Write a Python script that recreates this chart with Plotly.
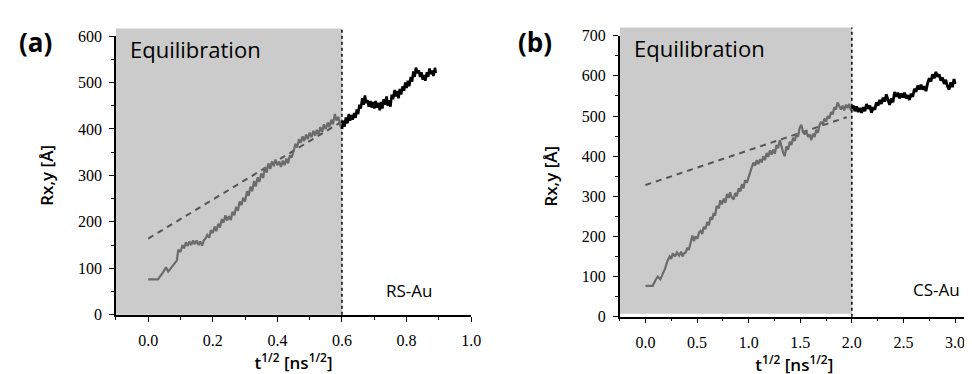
import plotly.graph_objects as go

# ---------------- data ----------------
# Panel (a) RS-Au : equilibration part (grey)
a_eq_t = [0.000, 0.030, 0.045, 0.055, 0.062, 0.075, 0.089, 0.093, 0.100, 0.106, 0.111, 0.117,
          0.122, 0.128, 0.133, 0.139, 0.144, 0.150, 0.156, 0.161, 0.167, 0.172, 0.178, 0.183,
          0.189, 0.194, 0.200, 0.206, 0.211, 0.217, 0.222, 0.228, 0.233, 0.239, 0.244, 0.250,
          0.256, 0.261, 0.267, 0.272, 0.278, 0.283, 0.289, 0.294, 0.300, 0.306, 0.311, 0.317,
          0.322, 0.328, 0.333, 0.339, 0.344, 0.350, 0.356, 0.361, 0.367, 0.372, 0.378, 0.383,
          0.389, 0.394, 0.400, 0.406, 0.411, 0.417, 0.422, 0.428, 0.433, 0.439, 0.444, 0.450,
          0.456, 0.461, 0.467, 0.472, 0.478, 0.483, 0.489, 0.494, 0.500, 0.506, 0.511, 0.517,
          0.522, 0.528, 0.533, 0.539, 0.544, 0.550, 0.556, 0.561, 0.567, 0.572, 0.578, 0.583,
          0.589, 0.594, 0.600]
a_eq_r = [76, 76, 90, 102, 93, 105, 117, 140, 135, 150, 143, 156,
          148, 158, 150, 160, 152, 160, 150, 158, 149, 160, 165, 172,
          166, 182, 176, 190, 180, 196, 188, 206, 198, 214, 203, 212,
          204, 222, 214, 232, 224, 244, 236, 252, 244, 266, 256, 276,
          266, 288, 276, 296, 286, 304, 294, 318, 306, 326, 314, 330,
          320, 334, 322, 330, 318, 332, 322, 336, 326, 344, 338, 352,
          368, 360, 378, 370, 384, 374, 388, 378, 392, 382, 396, 386,
          398, 388, 404, 394, 410, 400, 414, 404, 420, 410, 432, 418,
          426, 408, 400]
# Panel (a) RS-Au : production part (black)
a_pr_t = [0.600, 0.604, 0.608, 0.612, 0.617, 0.621, 0.625, 0.629, 0.633, 0.638, 0.642, 0.646,
          0.650, 0.654, 0.658, 0.663, 0.667, 0.671, 0.675, 0.679, 0.683, 0.688, 0.692, 0.696,
          0.700, 0.704, 0.708, 0.713, 0.717, 0.721, 0.725, 0.729, 0.733, 0.738, 0.742, 0.746,
          0.750, 0.754, 0.758, 0.763, 0.767, 0.771, 0.775, 0.779, 0.783, 0.788, 0.792, 0.796,
          0.800, 0.804, 0.808, 0.813, 0.817, 0.821, 0.825, 0.829, 0.833, 0.838, 0.842, 0.846,
          0.850, 0.854, 0.858, 0.863, 0.867, 0.871, 0.875, 0.879, 0.883, 0.888, 0.890]
a_pr_r = [400, 418, 405, 425, 412, 432, 418, 430, 420, 434, 424, 442,
          432, 452, 444, 466, 452, 472, 456, 462, 448, 460, 446, 458,
          444, 460, 446, 456, 440, 458, 444, 464, 452, 470, 450, 462,
          448, 474, 464, 484, 470, 482, 466, 486, 474, 492, 482, 500,
          488, 504, 492, 512, 502, 524, 512, 532, 520, 526, 512, 522,
          506, 516, 504, 522, 512, 530, 518, 526, 514, 532, 520]
a_fit_t = [0.0, 0.6]
a_fit_r = [164, 416]

# Panel (b) CS-Au : equilibration part (grey)
b_eq_t = [0.000, 0.070, 0.100, 0.119, 0.144, 0.170, 0.189, 0.215, 0.235, 0.250, 0.265, 0.285,
          0.305, 0.326, 0.345, 0.360, 0.374, 0.390, 0.407, 0.420, 0.440, 0.455, 0.470, 0.485,
          0.503, 0.520, 0.535, 0.550, 0.565, 0.580, 0.599, 0.615, 0.630, 0.647, 0.660, 0.675,
          0.690, 0.711, 0.725, 0.740, 0.759, 0.775, 0.790, 0.807, 0.820, 0.835, 0.855, 0.870,
          0.885, 0.903, 0.920, 0.935, 0.950, 0.965, 0.983, 1.000, 1.015, 1.030, 1.046, 1.062,
          1.078, 1.094, 1.110, 1.126, 1.142, 1.158, 1.175, 1.190, 1.206, 1.222, 1.238, 1.254,
          1.270, 1.286, 1.302, 1.318, 1.335, 1.350, 1.366, 1.382, 1.398, 1.414, 1.430, 1.446,
          1.462, 1.478, 1.494, 1.510, 1.526, 1.543, 1.559, 1.575, 1.591, 1.607, 1.623, 1.639,
          1.655, 1.671, 1.687, 1.703, 1.719, 1.735, 1.750, 1.766, 1.782, 1.798, 1.814, 1.830,
          1.846, 1.862, 1.878, 1.894, 1.910, 1.926, 1.942, 1.958, 1.974, 1.990, 2.000]
b_eq_r = [77, 77, 92, 100, 93, 106, 119, 140, 150, 144, 158, 150,
          160, 152, 162, 150, 158, 160, 172, 166, 190, 202, 188, 200,
          194, 210, 214, 206, 224, 218, 236, 228, 248, 242, 258, 252,
          276, 270, 290, 280, 294, 284, 306, 296, 310, 298, 292, 308,
          300, 320, 312, 330, 320, 340, 334, 350, 362, 372, 384, 376,
          390, 380, 392, 384, 400, 390, 408, 398, 414, 404, 416, 406,
          428, 420, 440, 422, 408, 400, 424, 416, 436, 428, 446, 438,
          456, 448, 470, 478, 462, 454, 462, 448, 454, 440, 456, 448,
          466, 458, 478, 486, 478, 494, 486, 500, 494, 510, 504, 522,
          516, 534, 524, 516, 526, 514, 528, 520, 530, 514, 518]
# Panel (b) CS-Au : production part (black)
b_pr_t = [2.000, 2.015, 2.030, 2.046, 2.062, 2.078, 2.094, 2.110, 2.126, 2.142, 2.158, 2.174,
          2.190, 2.206, 2.222, 2.238, 2.254, 2.270, 2.286, 2.302, 2.318, 2.334, 2.350, 2.366,
          2.382, 2.398, 2.414, 2.430, 2.446, 2.462, 2.478, 2.494, 2.510, 2.526, 2.542, 2.558,
          2.574, 2.590, 2.606, 2.622, 2.638, 2.654, 2.670, 2.686, 2.702, 2.718, 2.734, 2.750,
          2.766, 2.782, 2.798, 2.814, 2.830, 2.846, 2.862, 2.878, 2.894, 2.910, 2.926, 2.942,
          2.958, 2.974, 2.990, 3.000]
b_pr_r = [518, 526, 512, 524, 510, 520, 508, 522, 512, 530, 518, 526,
          508, 522, 516, 534, 526, 540, 530, 546, 536, 554, 540, 528,
          544, 534, 560, 548, 558, 544, 556, 546, 558, 544, 552, 540,
          556, 548, 568, 560, 576, 566, 578, 566, 574, 562, 582, 594,
          586, 604, 594, 610, 598, 604, 588, 596, 580, 590, 574, 566,
          584, 572, 592, 580]
b_fit_t = [0.0, 1.95]
b_fit_r = [328, 497]

a_xticks = [0.0, 0.2, 0.4, 0.6, 0.8, 1.0]
b_xticks = [0.0, 0.5, 1.0, 1.5, 2.0, 2.5, 3.0]
a_split = 0.6
b_split = 2.0
a_xmin = -0.1
b_xmin = -0.25

# ---------------- styling ----------------
W, H = 972, 374
GREY = "#6b6b6b"
SHADE = "#cbcbcb"
TICKFONT = dict(family="Liberation Serif, Times New Roman, serif", size=16, color="black")
TITLEFONT = dict(family="Open Sans", size=17, color="black", weight=600)


def px_x(p):
    return p / W


def px_y(p):
    return (H - p) / H


fig = go.Figure()

# panel (a)
fig.add_trace(go.Scatter(x=a_fit_t, y=a_fit_r, mode="lines", xaxis="x", yaxis="y",
                         line=dict(color="#555555", width=2, dash="6px,5px"), showlegend=False))
fig.add_trace(go.Scatter(x=a_eq_t, y=a_eq_r, mode="lines", xaxis="x", yaxis="y",
                         line=dict(color=GREY, width=2.2), showlegend=False))
fig.add_trace(go.Scatter(x=a_pr_t, y=a_pr_r, mode="lines", xaxis="x", yaxis="y",
                         line=dict(color="black", width=2.6), showlegend=False))
# panel (b)
fig.add_trace(go.Scatter(x=b_fit_t, y=b_fit_r, mode="lines", xaxis="x2", yaxis="y2",
                         line=dict(color="#555555", width=2, dash="6px,5px"), showlegend=False))
fig.add_trace(go.Scatter(x=b_eq_t, y=b_eq_r, mode="lines", xaxis="x2", yaxis="y2",
                         line=dict(color=GREY, width=2.2), showlegend=False))
fig.add_trace(go.Scatter(x=b_pr_t, y=b_pr_r, mode="lines", xaxis="x2", yaxis="y2",
                         line=dict(color="black", width=2.8), showlegend=False))

axis_common = dict(showgrid=False, zeroline=False, showline=True, linecolor="black",
                   linewidth=1.5, ticks="outside", ticklen=5, tickwidth=1.2,
                   tickcolor="black", tickfont=TICKFONT)

a_dom_y = [px_y(313), px_y(21)]
b_dom_y = [px_y(315), px_y(20.7)]

fig.update_layout(
    width=W, height=H, margin=dict(l=0, r=0, t=0, b=0),
    paper_bgcolor="white", plot_bgcolor="rgba(0,0,0,0)",
    xaxis=dict(domain=[px_x(109), px_x(468)], range=[a_xmin, 1.0], anchor="y",
               tickvals=a_xticks, tickformat=".1f",
               minor=dict(dtick=0.1, tick0=0, ticklen=3, ticks="outside", tickcolor="black", showgrid=False),
               title=dict(text="t<sup>1/2</sup> [ns<sup>1/2</sup>]", font=TITLEFONT, standoff=2),
               ticklabelstandoff=5, **axis_common),
    yaxis=dict(domain=a_dom_y, range=[0, 600], anchor="x", dtick=100,
               minor=dict(dtick=50, ticklen=3, ticks="outside", tickcolor="black", showgrid=False),
               title=dict(text="Rx,y [Å]", font=TITLEFONT, standoff=20),
               ticklabelstandoff=4, **axis_common),
    xaxis2=dict(domain=[px_x(618), px_x(971)], range=[b_xmin, 3.135], anchor="y2",
                tickvals=b_xticks, tickformat=".1f",
                minor=dict(dtick=0.25, tick0=0, ticklen=3, ticks="outside", tickcolor="black", showgrid=False),
                title=dict(text="t<sup>1/2</sup> [ns<sup>1/2</sup>]", font=TITLEFONT, standoff=2),
                ticklabelstandoff=5, **axis_common),
    yaxis2=dict(domain=b_dom_y, range=[0, 700], anchor="x2", dtick=100,
                minor=dict(dtick=50, ticklen=3, ticks="outside", tickcolor="black", showgrid=False),
                title=dict(text="Rx,y [Å]", font=TITLEFONT, standoff=20),
                ticklabelstandoff=4, **axis_common),
)

# shaded equilibration regions and dotted separators
fig.add_shape(type="rect", xref="x", yref="paper", x0=a_xmin, x1=a_split,
              y0=a_dom_y[0], y1=px_y(13), fillcolor=SHADE, line_width=0, layer="below")
fig.add_shape(type="rect", xref="x2", yref="paper", x0=b_xmin, x1=b_split,
              y0=px_y(312), y1=px_y(12), fillcolor=SHADE, line_width=0, layer="below")
fig.add_shape(type="line", xref="x", yref="paper", x0=a_split, x1=a_split,
              y0=a_dom_y[0], y1=px_y(13), line=dict(color="black", width=1.5, dash="dot"))
fig.add_shape(type="line", xref="x2", yref="paper", x0=b_split, x1=b_split,
              y0=b_dom_y[0], y1=px_y(12), line=dict(color="black", width=1.5, dash="dot"))

ann_font = dict(family="Open Sans", color="black")
for txt, x, y, size, w, anchor in [
    ("(a)", 9, 27, 26, 700, "left"),
    ("(b)", 513, 27, 26, 700, "left"),
    ("Equilibration", 121, 35, 22, 400, "left"),
    ("Equilibration", 630, 34, 22, 400, "left"),
    ("RS-Au", 405, 288, 17, 400, "center"),
    ("CS-Au", 938, 287, 17, 400, "center"),
]:
    fig.add_annotation(text=txt, xref="paper", yref="paper", x=px_x(x), y=px_y(y),
                       xanchor=anchor, yanchor="middle", showarrow=False,
                       font=dict(size=size, weight=w, **ann_font))

fig.write_html("out.html")
